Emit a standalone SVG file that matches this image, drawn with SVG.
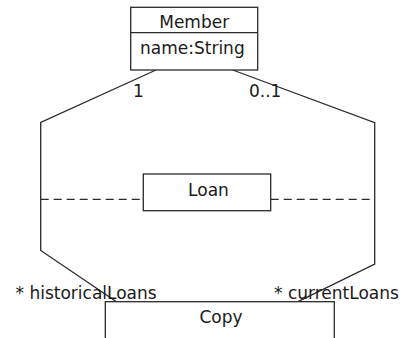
<svg xmlns="http://www.w3.org/2000/svg" width="402" height="338" viewBox="0 0 402 338">
<style>
text{font-family:"DejaVu Sans","Liberation Sans",sans-serif;font-size:17px;fill:#1a1a1a}
.box{fill:#fff;stroke:#2a2a2a;stroke-width:1.3}
.c{text-anchor:middle}
.ln{fill:none;stroke:#2a2a2a;stroke-width:1.3}
.dash{stroke-dasharray:8 5}
</style>
<rect width="402" height="338" fill="#fff"/>
<g id="connectors">
<polyline class="ln" points="156,70 40.7,122.5 40.7,250.5 116.5,301.7"/>
<polyline class="ln" points="232.7,70 374.7,122.7 374.7,264 298,301.7"/>
<line class="ln dash" x1="40.7" y1="199.3" x2="143.3" y2="199.3"/>
<line class="ln dash" x1="270.7" y1="199.3" x2="374.7" y2="199.3"/>
<text x="133" y="96.7">1</text>
<text x="249" y="96.7">0..1</text>
<text x="15.5" y="299">* historicalLoans</text>
<text x="274" y="299">* currentLoans</text>
</g>
<g id="Member">
<rect class="box" x="130.7" y="7.3" width="127" height="62.7"/>
<line class="ln" x1="130.7" y1="32.7" x2="257.7" y2="32.7"/>
<text class="c" x="194.2" y="27.5">Member</text>
<text x="140" y="54.3">name:String</text>
</g>
<g id="Loan">
<rect class="box" x="143.3" y="174" width="127.4" height="36.7"/>
<text class="c" x="208.5" y="195.7">Loan</text>
</g>
<g id="Copy">
<rect class="box" x="105.3" y="301.7" width="229" height="50"/>
<text class="c" x="221" y="323.3">Copy</text>
</g>
</svg>
